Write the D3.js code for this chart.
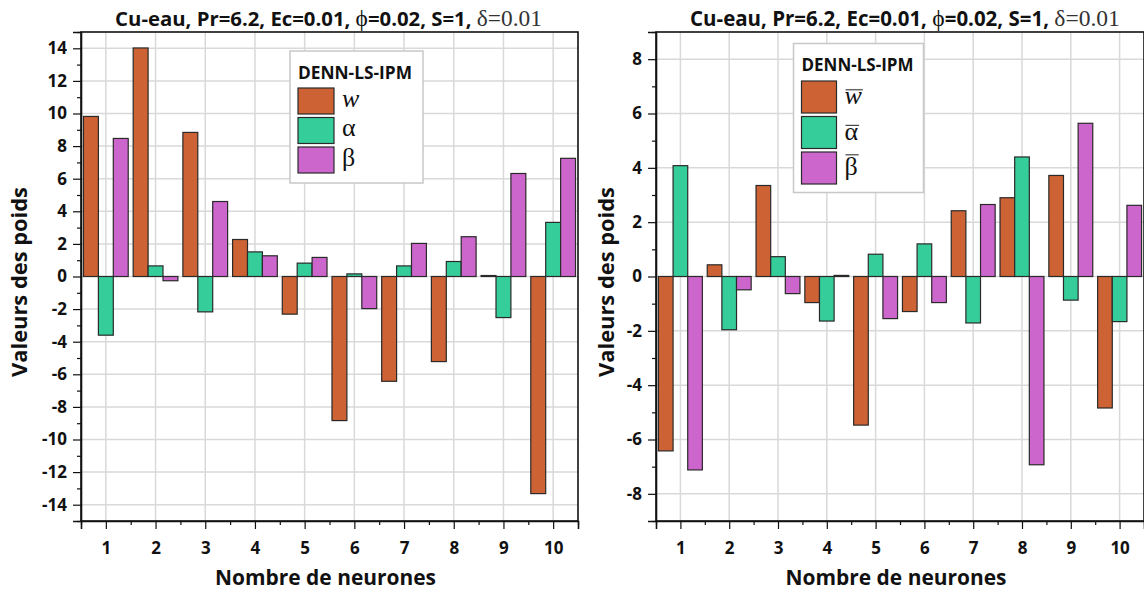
<!DOCTYPE html>
<html><head><meta charset="utf-8">
<script src="https://cdn.jsdelivr.net/npm/d3@7"></script>
<style>
html,body{margin:0;padding:0;background:#fff;}
svg{display:block;}
text{font-family:"Open Sans",Lato,sans-serif;}
</style></head>
<body>
<svg id="chart" width="1144" height="595"></svg>
<script>
// ---- data ----
const categories = [1,2,3,4,5,6,7,8,9,10];
const seriesNames = ["w","alpha","beta"];
const wLeft     = [9.82, 14.02, 8.84, 2.27, -2.31, -8.84, -6.43, -5.22, 0.06, -13.32];
const alphaLeft = [-3.60, 0.65, -2.17, 1.51, 0.82, 0.16, 0.65, 0.92, -2.52, 3.32];
const betaLeft  = [8.47, -0.26, 4.60, 1.27, 1.17, -1.97, 2.03, 2.44, 6.32, 7.25];
const wRight     = [-6.42, 0.43, 3.35, -0.96, -5.47, -1.29, 2.42, 2.90, 3.72, -4.84];
const alphaRight = [4.08, -1.96, 0.73, -1.64, 0.82, 1.20, -1.71, 4.40, -0.87, -1.66];
const betaRight  = [-7.12, -0.49, -0.63, 0.04, -1.55, -0.96, 2.65, -6.93, 5.64, 2.62];
const yTicksLeft  = [-14,-12,-10,-8,-6,-4,-2,0,2,4,6,8,10,12,14];
const yTicksRight = [-8,-6,-4,-2,0,2,4,6,8];
const legendLabels = ["w","α","β"];
const titleMain = "Cu-eau, Pr=6.2, Ec=0.01, ";
const xLabel = "Nombre de neurones";
const yLabel = "Valeurs des poids";
const legendTitle = "DENN-LS-IPM";

const colors = {w:"#CD6234", alpha:"#35CD99", beta:"#CC66CC"};
const svg = d3.select("#chart");

function fit(sel, target, base){
  sel.attr("font-size", base);
  const len = sel.node().getComputedTextLength();
  sel.attr("font-size", base*target/len);
}

function panel(opts){
  const {x0,x1,y0,y1,ydom,yticks,data,legend,ylabX} = opts;
  const g = svg.append("g");
  const x = d3.scaleLinear().domain([0.5,10.5]).range([x0,x1]);
  const y = d3.scaleLinear().domain(ydom).range([y1,y0]);
  // grid
  g.append("g").selectAll("line").data(categories).join("line")
    .attr("x1",d=>x(d)).attr("x2",d=>x(d)).attr("y1",y0).attr("y2",y1)
    .attr("stroke","#d9d9d9").attr("stroke-width",1.5);
  g.append("g").selectAll("line").data(yticks).join("line")
    .attr("y1",d=>y(d)).attr("y2",d=>y(d)).attr("x1",x0).attr("x2",x1)
    .attr("stroke","#d9d9d9").attr("stroke-width",1.5);
  // bars
  const offs = {w:-0.3, alpha:0, beta:0.3};
  const bw = x(0.3)-x(0);
  const rows = [];
  seriesNames.forEach(s=>data[s].forEach((v,i)=>rows.push({s,c:categories[i],v})));
  g.append("g").selectAll("rect").data(rows).join("rect")
    .attr("x",d=>x(d.c+offs[d.s])-bw/2)
    .attr("width",bw)
    .attr("y",d=>y(Math.max(0,d.v)))
    .attr("height",d=>Math.abs(y(d.v)-y(0)))
    .attr("fill",d=>colors[d.s])
    .attr("stroke","#2a2a2a").attr("stroke-width",1.2);
  // frame
  g.append("rect").attr("x",x0).attr("y",y0).attr("width",x1-x0).attr("height",y1-y0)
    .attr("fill","none").attr("stroke","#111").attr("stroke-width",1.6);
  const fmt = d => String(d);
  // y axis
  const minorY = d3.range(ydom[0],ydom[1]+0.001,1).filter(v=>!yticks.includes(v));
  g.append("g").attr("transform",`translate(${x0},0)`)
    .call(d3.axisLeft(y).tickValues(yticks).tickSize(8).tickPadding(6).tickFormat(fmt));
  g.append("g").attr("transform",`translate(${x0},0)`)
    .call(d3.axisLeft(y).tickValues(minorY).tickSize(4).tickFormat(""))
    .call(a=>a.select(".domain").remove());
  // x axis
  const minorX = d3.range(0.5,10.6,1);
  g.append("g").attr("transform",`translate(0,${y1})`)
    .call(d3.axisBottom(x).tickValues(categories).tickSize(8).tickPadding(13).tickFormat(fmt));
  g.append("g").attr("transform",`translate(0,${y1})`)
    .call(d3.axisBottom(x).tickValues(minorX).tickSize(4).tickFormat(""))
    .call(a=>a.select(".domain").remove());
  g.selectAll(".tick text").attr("font-size",17).attr("font-weight","bold").attr("fill","#111")
    .style("font-family","'Open Sans', sans-serif");
  g.selectAll(".domain").attr("stroke","#111").attr("stroke-width",1.6);
  g.selectAll(".tick line").attr("stroke","#111").attr("stroke-width",1.2);
  // title
  const t = g.append("text").attr("x",opts.titleX).attr("y",26).attr("text-anchor","middle")
    .attr("font-weight","bold").attr("fill","#111");
  t.append("tspan").text(titleMain);
  t.append("tspan").text("ϕ").attr("font-family","Liberation Serif, serif").attr("font-weight","normal").attr("font-size","1.15em");
  t.append("tspan").text("=0.02, S=1, ");
  t.append("tspan").text("δ=0.01").attr("font-family","Liberation Serif, serif").attr("font-weight","normal").attr("font-size","1.15em").attr("fill","#333");
  fit(t, opts.titleW, 18);
  // axis labels
  const xl = g.append("text").attr("x",(x0+x1)/2 - 4).attr("y",585).attr("text-anchor","middle")
    .attr("font-weight","bold").attr("fill","#111").text(xLabel);
  fit(xl, 221, 20);
  const yl = g.append("text").attr("transform",`translate(${ylabX},282) rotate(-90)`)
    .attr("text-anchor","middle").attr("font-weight","bold").attr("fill","#111").text(yLabel);
  fit(yl, 190, 20);
  // legend
  const L = legend;
  const lg = g.append("g");
  lg.append("rect").attr("x",L.x).attr("y",L.y).attr("width",L.w).attr("height",L.h)
    .attr("fill","#fff").attr("stroke","#c8c8c8").attr("stroke-width",1.5);
  const lt = lg.append("text").attr("x",L.x+8).attr("y",L.titleY).attr("font-weight","bold")
    .attr("fill","#111").text(legendTitle);
  fit(lt, L.titleW, 15);
  seriesNames.forEach((s,i)=>{
    const yy = L.sw0 + i*L.step;
    lg.append("rect").attr("x",L.x+8).attr("y",yy).attr("width",L.swW).attr("height",L.swH)
      .attr("fill",colors[s]).attr("stroke","#2a2a2a").attr("stroke-width",1.2);
    const tx = L.x+8+L.swW+L.gap, ty = yy+L.swH*0.72;
    const lbl = lg.append("text").attr("x",tx).attr("y",ty)
      .attr("font-size",26).attr("fill","#111").style("font-family","'Liberation Serif', serif")
      .attr("font-style", s==="w" ? "italic":"normal")
      .text(legendLabels[i]);
    if(L.bar){
      const wdt = lbl.node().getComputedTextLength();
      const top = s==="beta" ? 0.70*26 : 0.47*26;
      lg.append("line").attr("x1",tx+1).attr("x2",tx+wdt+1)
        .attr("y1",ty-top-2).attr("y2",ty-top-2).attr("stroke","#222").attr("stroke-width",1);
    }
  });
}

panel({x0:81,x1:578,y0:32,y1:521,ydom:[-15,15],yticks:yTicksLeft,titleX:328.5,titleW:427,
  data:{w:wLeft,alpha:alphaLeft,beta:betaLeft}, ylabX:27,
  legend:{x:290,y:51,w:133,h:132,titleY:79,titleW:114,sw0:88,step:29.5,swW:36,swH:26,gap:8,bar:false}});
panel({x0:656,x1:1144,y0:32,y1:521,ydom:[-9,9],yticks:yTicksRight,titleX:905,titleW:430,
  data:{w:wRight,alpha:alphaRight,beta:betaRight}, ylabX:614,
  legend:{x:793.5,y:43.5,w:130,h:149,titleY:71,titleW:112,sw0:81,step:35.5,swW:35,swH:32,gap:8,bar:true}});
</script>
</body></html>
